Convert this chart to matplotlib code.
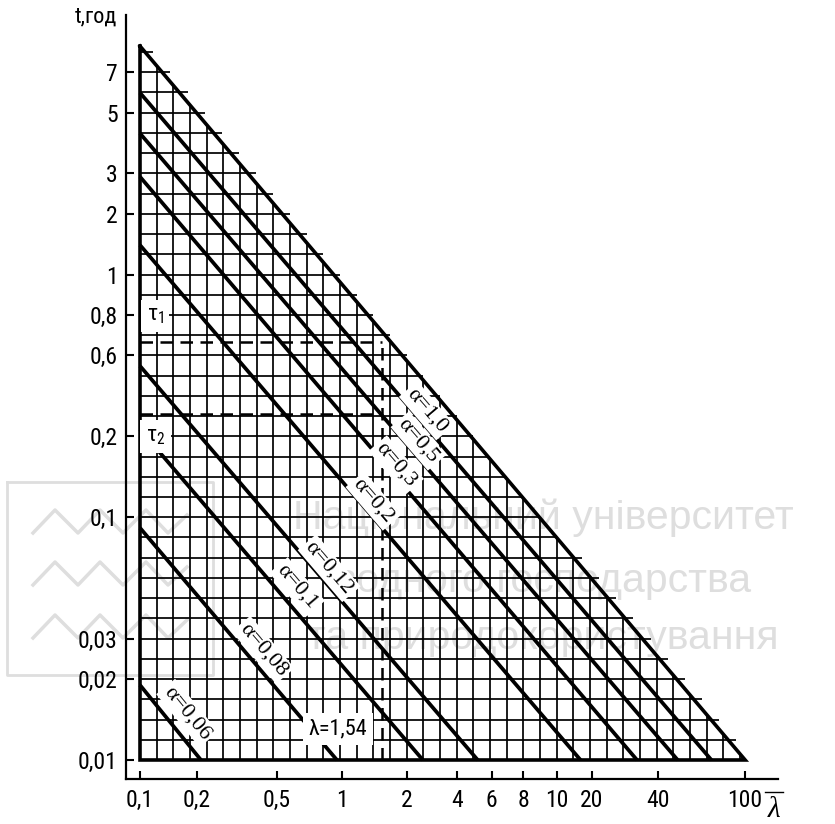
import glob
import os
import numpy as np
import matplotlib
matplotlib.use('Agg')
import matplotlib.pyplot as plt
from matplotlib.collections import LineCollection
from matplotlib.lines import Line2D
from matplotlib.font_manager import FontProperties

# nomogram scales: tick values and their place on the grid (in cells)
lam_ticks = [0.1, 0.2, 0.5, 1, 2, 4, 6, 8, 10, 20, 40, 100]
lam_tick_pos = [0, 3.4, 8.2, 12.1, 16.0, 19.0, 21.1, 23.0, 25.0, 27.1, 31.1, 36.3]
t_ticks = [0.01, 0.02, 0.03, 0.1, 0.2, 0.6, 0.8, 1, 2, 3, 5, 7]
t_tick_pos = [0, 4, 6, 12, 16, 20, 22, 24, 27, 29, 32, 34]

# alpha lines: t where the line leaves the left edge, lambda where it hits t=0.01
alpha_labels = ['1,0', '0,5', '0,3', '0,2', '0,12', '0,1', '0,08', '0,06']
alpha_t_start = [5.9, 4.2, 2.9, 1.4, 0.52, 0.22, 0.09, 0.019]
alpha_lam_end = [70, 49, 32, 16, 5.1, 2.5, 0.95, 0.21]

t_max = 8.7
lam_max = 100
lam_mark = 1.54
tau1 = 0.66
tau2 = 0.27


def to_pos(v, ticks, pos):
    lv = np.log10(np.atleast_1d(np.asarray(v, float)))
    lt = np.log10(ticks)
    pos = np.asarray(pos, float)
    p = np.interp(lv, lt, pos)
    hi = lv > lt[-1]
    p[hi] = pos[-1] + (lv[hi] - lt[-1]) * (pos[-1] - pos[-2]) / (lt[-1] - lt[-2])
    lo = lv < lt[0]
    p[lo] = pos[0] + (lv[lo] - lt[0]) * (pos[1] - pos[0]) / (lt[1] - lt[0])
    return p


def xpos(lam):
    return to_pos(lam, lam_ticks, lam_tick_pos)


def ypos(t):
    return to_pos(t, t_ticks, t_tick_pos)


def fmt(v):
    return ('%g' % v).replace('.', ',')


# a narrow sans for the axis numbers, if one is installed
narrow = None
for pat in ['LiberationSansNarrow-Regular*', 'ArialNarrow*', 'RobotoCondensed-Regular*',
            'OpenSans*Condensed-Regular*', 'DejaVuSansCondensed.ttf']:
    hits = [f for d in ['/usr/share/fonts', '/usr/local/share/fonts', os.path.expanduser('~/.fonts')]
            for f in glob.glob(os.path.join(d, '**', pat), recursive=True)]
    if hits:
        narrow = hits[0]
        break
if narrow:
    sans_fp = lambda size: FontProperties(fname=narrow, size=size)
    tick_size = 17
else:
    sans_fp = lambda size: FontProperties(family='Liberation Sans', size=size)
    tick_size = 15.5
serif = 'Liberation Serif'

fig = plt.figure(figsize=(8.35, 8.24), dpi=100)
fig.patch.set_facecolor('white')
ax = fig.add_axes([126 / 835, 1 - 779 / 824, 652 / 835, 764 / 824])
ax.set_xlim(-0.84, 38.27)
ax.set_ylim(-0.94, 36.83)
ax.patch.set_alpha(0)

# watermark (behind everything)
wm = '#dedede'
for txt, yy in [('Національний університет', 518), ('водного господарства', 581),
                ('та природокористування', 638)]:
    fig.text(543 / 835, 1 - yy / 824, txt, ha='center', va='center', fontsize=29.5,
             color=wm, family='Liberation Sans', zorder=-2)
fig.add_artist(Line2D(np.array([7, 213, 213, 7, 7]) / 835,
                      1 - np.array([482, 482, 675, 675, 482]) / 824,
                      color=wm, lw=2, zorder=-2))
for b in [533, 585, 638]:
    zx = np.array([33, 55, 78, 100, 123, 146, 168, 187])
    zy = np.array([b, b - 23, b, b - 23, b, b - 23, b, b - 18])
    fig.add_artist(Line2D(zx / 835, 1 - zy / 824, color=wm, lw=2.5, zorder=-2))

W = xpos(lam_max)[0]
H = ypos(t_max)[0]

# grid: verticals stop at the hypotenuse, horizontals poke a little past it
segs = []
for j in range(1, int(np.floor(H)) + 1):
    xh = W * (1 - j / H)
    xe = min(np.ceil(xh - 1e-9), xh + 0.5, np.floor(W))
    segs.append([(0, j), (xe, j)])
for i in range(1, int(np.floor(W)) + 1):
    segs.append([(i, 0), (i, H * (1 - i / W))])
ax.add_collection(LineCollection(segs, colors='black', linewidths=1.25, zorder=2))

# triangle border
ax.plot([0, 0, W, 0], [H, 0, 0, H], color='black', lw=2.6, zorder=4,
        solid_joinstyle='miter')

# alpha lines with labels
label_x = [16.7, 16.2, 15.0, 13.5, 10.8, 8.65, 6.7, 1.95]
label_off = [11, 11, 8, 11, 12, 17, 15, 19]
for lab, ts, le, lx, off in zip(alpha_labels, alpha_t_start, alpha_lam_end, label_x, label_off):
    y0 = ypos(ts)[0]
    x1 = xpos(le)[0]
    ax.plot([0, x1], [y0, 0], color='black', lw=2.7, zorder=4, solid_capstyle='butt')
    p0 = ax.transData.transform((0, y0))
    p1 = ax.transData.transform((x1, 0))
    ang = np.arctan2(p1[1] - p0[1], p1[0] - p0[0])
    nx, ny = -np.sin(ang), np.cos(ang)
    ly = y0 * (1 - lx / x1)
    ax.annotate('α=' + lab, xy=(lx, ly), xytext=(nx * off * 0.72, ny * off * 0.72),
                textcoords='offset points', rotation=np.degrees(ang),
                rotation_mode='anchor', ha='center', va='center', fontsize=16,
                family=serif, zorder=6,
                bbox=dict(boxstyle='square,pad=0.12', fc='white', ec='none'))

# dashed construction lines
xm = xpos(lam_mark)[0]
y1 = ypos(tau1)[0]
y2 = ypos(tau2)[0]
dash = (0, (5, 3))
ax.plot([0, xm], [y1, y1], color='black', lw=1.8, ls=dash, zorder=3)
ax.plot([0, xm], [y2, y2], color='black', lw=1.8, ls=dash, zorder=3)
ax.plot([xm, xm], [0, y1], color='black', lw=1.8, ls=dash, zorder=3)

box = dict(boxstyle='square,pad=0.25', fc='white', ec='none')
ax.annotate(r'$\mathregular{τ_1}$', xy=(0, y1), xytext=(11, 19), textcoords='offset points',
            ha='center', va='center', fontproperties=sans_fp(16), zorder=6, bbox=box)
ax.annotate(r'$\mathregular{τ_2}$', xy=(0, y2), xytext=(11, -16), textcoords='offset points',
            ha='center', va='center', fontproperties=sans_fp(16), zorder=6, bbox=box)
ax.annotate('λ=' + fmt(lam_mark), xy=(xm, 0), xytext=(-32, 22), textcoords='offset points',
            ha='center', va='center', fontproperties=sans_fp(16), zorder=6, bbox=box)

# axes
ax.set_xticks(xpos(lam_ticks))
ax.set_xticklabels([fmt(v) for v in lam_ticks])
ax.set_yticks(ypos(t_ticks))
ax.set_yticklabels([fmt(v) for v in t_ticks])
ax.tick_params(direction='in', length=6, width=1.5)
ax.tick_params(axis='x', pad=7)
ax.tick_params(axis='y', pad=6)
for lbl in ax.get_xticklabels() + ax.get_yticklabels():
    lbl.set_fontproperties(sans_fp(tick_size))
for s in ['top', 'right']:
    ax.spines[s].set_visible(False)
for s in ['left', 'bottom']:
    ax.spines[s].set_linewidth(1.6)

fig.text(117 / 835, 1 - 17 / 824, 't,год', ha='right', va='center', fontproperties=sans_fp(16))
fig.text(774 / 835, 1 - 810 / 824, 'λ', ha='center', va='center', fontsize=21, family=serif,
         style='italic')
fig.add_artist(Line2D(np.array([765, 783]) / 835, 1 - np.array([792, 792]) / 824,
                      color='black', lw=1))

fig.savefig('out.png', dpi=100)
